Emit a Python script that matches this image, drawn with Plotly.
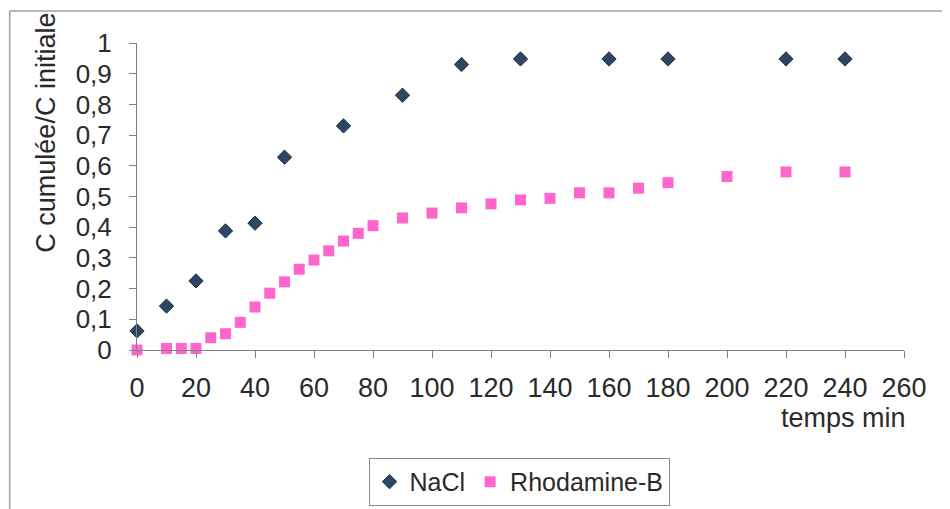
import plotly.graph_objects as go

# NaCl
nacl_t = [0, 10, 20, 30, 40, 50, 70, 90, 110, 130, 160, 180, 220, 240]
nacl_c = [0.062, 0.143, 0.225, 0.388, 0.413, 0.628, 0.73, 0.83, 0.93, 0.948, 0.948, 0.948, 0.948, 0.948]

# Rhodamine-B
rho_t = [0, 10, 15, 20, 25, 30, 35, 40, 45, 50, 55, 60, 65, 70, 75, 80, 90, 100,
         110, 120, 130, 140, 150, 160, 170, 180, 200, 220, 240]
rho_c = [0.0, 0.005, 0.005, 0.005, 0.04, 0.053, 0.09, 0.14, 0.185, 0.222, 0.263, 0.293, 0.323,
         0.355, 0.38, 0.405, 0.43, 0.446, 0.463, 0.476, 0.489, 0.494, 0.512, 0.512, 0.527,
         0.545, 0.565, 0.58, 0.58]

x_ticks = list(range(0, 261, 20))
y_ticks = [0, 0.1, 0.2, 0.3, 0.4, 0.5, 0.6, 0.7, 0.8, 0.9, 1]

font = 'Liberation Sans, Arial, sans-serif'
txt = '#2a2a2a'

fig = go.Figure()
fig.add_trace(go.Scatter(x=nacl_t, y=nacl_c, mode='markers', name='NaCl', cliponaxis=False,
                         marker=dict(symbol='diamond', size=11, color='#2d4661',
                                     line=dict(color='#1f2f44', width=1))))
fig.add_trace(go.Scatter(x=rho_t, y=rho_c, mode='markers', name='Rhodamine-B', cliponaxis=False,
                         marker=dict(symbol='square', size=11, color='#ff66cc',
                                     line=dict(width=0))))

# page has an 8px body margin, so the figure is a bit smaller than the window
fig.update_layout(
    width=942, height=501,
    margin=dict(l=129, r=46, t=35, b=159, autoexpand=False),
    paper_bgcolor='white', plot_bgcolor='white',
    separators=', ',
    font=dict(family=font, color=txt, size=25),
    showlegend=True,
    legend=dict(orientation='h', xref='container', yref='container', x=0.5425, y=0.054,
                xanchor='center', yanchor='middle',
                bordercolor='#8a8a8a', borderwidth=1, itemwidth=30,
                font=dict(size=25, color=txt)),
    annotations=[
        dict(text='C cumulée/C initiale', textangle=-90, xref='paper', yref='paper',
             x=-0.119, y=0.707, xanchor='center', yanchor='middle', showarrow=False,
             font=dict(size=27, color=txt)),
        dict(text='temps min', xref='paper', yref='paper', x=1.005, y=-0.22,
             xanchor='right', yanchor='middle', showarrow=False, font=dict(size=27, color=txt)),
    ],
    shapes=[
        dict(type='line', xref='paper', yref='paper', x0=-0.166, x1=-0.166, y0=-0.52, y1=1.104,
             line=dict(color='#a0a0a0', width=1.5)),
        dict(type='line', xref='paper', yref='paper', x0=-0.166, x1=1.07, y0=1.104, y1=1.104,
             line=dict(color='#a0a0a0', width=1.5)),
    ],
)
fig.update_xaxes(range=[0, 260], tickvals=x_ticks, showgrid=False, zeroline=False,
                 showline=True, linecolor='#808080', linewidth=1, automargin=False,
                 ticks='outside', ticklen=7, tickcolor='#808080', ticklabelstandoff=7,
                 tickfont=dict(size=27, color=txt))
fig.update_yaxes(range=[0, 1], tickvals=y_ticks, showgrid=False, zeroline=False,
                 showline=True, linecolor='#808080', linewidth=1, automargin=False,
                 ticks='outside', ticklen=7, tickcolor='#808080', ticklabelstandoff=12,
                 tickfont=dict(size=26, color=txt))

fig.write_html("out.html")
